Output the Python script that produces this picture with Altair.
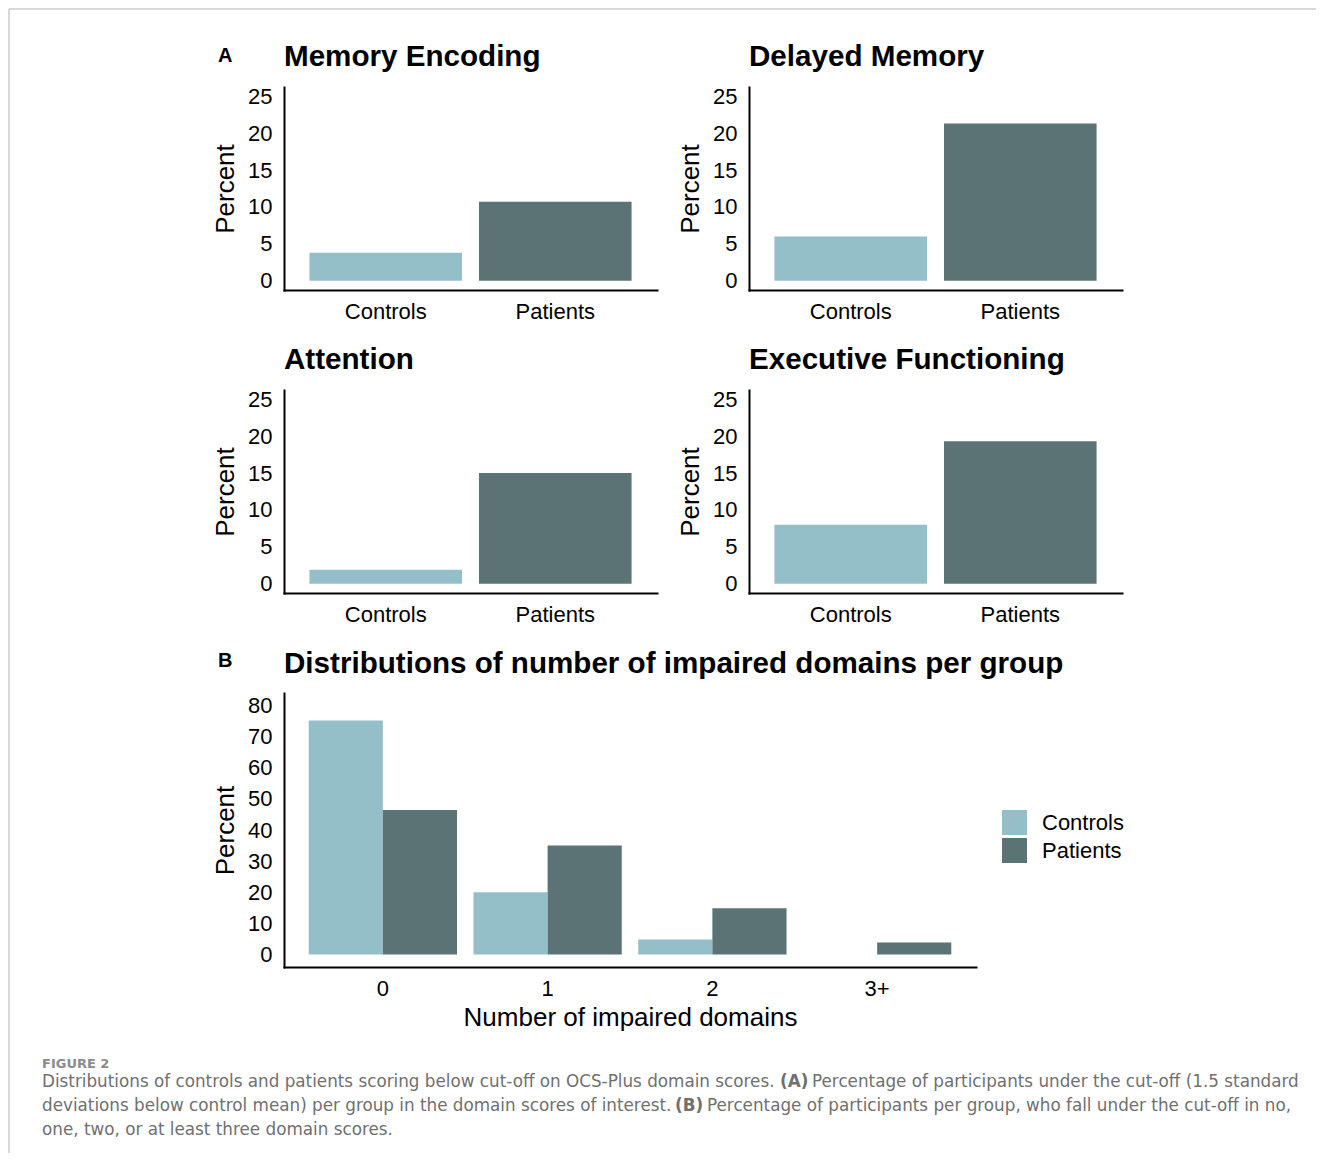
import altair as alt
import pandas as pd

# ---------------- data ----------------
groups = ["Controls", "Patients"]
domains = ["Memory Encoding", "Delayed Memory", "Attention", "Executive Functioning"]
domain_controls = [3.8, 6.0, 1.9, 8.0]
domain_patients = [10.7, 21.3, 15.0, 19.3]
y_ticks_a = [0, 5, 10, 15, 20, 25]

levels = ["0", "1", "2", "3+"]
dist_controls = [75.2, 20.0, 4.8, 0.0]
dist_patients = [46.4, 35.0, 14.9, 3.9]
y_ticks_b = [0, 10, 20, 30, 40, 50, 60, 70, 80]

caption_head = "FIGURE 2"
caption_l1a = "Distributions of controls and patients scoring below cut-off on OCS-Plus domain scores."
caption_l1b = "(A)"
caption_l1c = "Percentage of participants under the cut-off (1.5 standard"
caption_l2a = "deviations below control mean) per group in the domain scores of interest."
caption_l2b = "(B)"
caption_l2c = "Percentage of participants per group, who fall under the cut-off in no,"
caption_l3 = "one, two, or at least three domain scores."

# ---------------- style ----------------
FONT = "Liberation Sans"
CAP_FONT = "DejaVu Sans"
CAP_SIZE = 16.8
COLORS = ["#95BFC8", "#5C7376"]
FRAME = "#b4b4b4"
CAP_COLOR = "#707070"
color_scale = alt.Scale(domain=groups, range=COLORS)

PANEL_W, PANEL_H = 373, 203
B_W, B_H = 692, 274
ROW_STEP = 303          # plot-top to plot-top distance between rows


def overlay_text(text, x, y, size, weight="normal", color="black", font=FONT):
    return alt.Chart(pd.DataFrame({"label": [text]})).mark_text(
        align="left", baseline="alphabetic", fontSize=size, fontWeight=weight,
        color=color, font=font
    ).encode(x=alt.value(x), y=alt.value(y), text="label:N")


def domain_panel(i):
    df = pd.DataFrame({"group": groups, "pct": [domain_controls[i], domain_patients[i]]})
    return alt.Chart(df).mark_bar().encode(
        x=alt.X("group:N", sort=groups,
                scale=alt.Scale(paddingInner=0.1, paddingOuter=0.15),
                axis=alt.Axis(title=None, labelAngle=0)),
        y=alt.Y("pct:Q", scale=alt.Scale(domain=[-1.25, 26.25], nice=False, zero=False),
                axis=alt.Axis(title="Percent", values=y_ticks_a)),
        y2=alt.datum(0),
        color=alt.Color("group:N", scale=color_scale, legend=None),
    ).properties(width=PANEL_W, height=PANEL_H, title=domains[i])


row1 = alt.hconcat(domain_panel(0), domain_panel(1), spacing=92, bounds="flush")
row2 = alt.hconcat(domain_panel(2), domain_panel(3), spacing=92, bounds="flush")

# panel B
df_b = pd.DataFrame({
    "level": levels * 2,
    "group": ["Controls"] * len(levels) + ["Patients"] * len(levels),
    "pct": dist_controls + dist_patients,
})
panel_b = alt.Chart(df_b).mark_bar().encode(
    x=alt.X("level:N", sort=levels,
            scale=alt.Scale(paddingInner=0.1, paddingOuter=0.15),
            axis=alt.Axis(title="Number of impaired domains", labelAngle=0)),
    xOffset=alt.XOffset("group:N", sort=groups,
                        scale=alt.Scale(paddingInner=0, paddingOuter=0)),
    y=alt.Y("pct:Q", scale=alt.Scale(domain=[-4, 84], nice=False, zero=False),
            axis=alt.Axis(title="Percent", values=y_ticks_b)),
    y2=alt.datum(0),
    color=alt.Color("group:N", scale=color_scale,
                    legend=alt.Legend(title=None, orient="none", legendX=718, legendY=117,
                                      symbolType="square", symbolSize=625,
                                      symbolStrokeWidth=0, labelFontSize=22,
                                      labelFont=FONT, labelColor="black",
                                      labelOffset=15, rowPadding=3)),
).properties(width=B_W, height=B_H,
             title="Distributions of number of impaired domains per group")

# decoration layer (frame, panel letters, caption); origin sits at the
# top-right corner of panel B's plot area.  Offsets below are in panel-B coords.
OX = -B_W
ROW1_Y = -2 * ROW_STEP
k = pd.DataFrame({"k": [0]})
frame_top = alt.Chart(k).mark_rule(color=FRAME, strokeWidth=1).encode(
    x=alt.value(-275 + OX), x2=alt.value(1032 + OX), y=alt.value(ROW1_Y - 78))
frame_left = alt.Chart(k).mark_rule(color=FRAME, strokeWidth=1).encode(
    x=alt.value(-275 + OX), y=alt.value(ROW1_Y - 78), y2=alt.value(460))
deco_layers = [
    frame_top, frame_left,
    overlay_text("A", -66 + OX, ROW1_Y - 25, 20, weight="bold"),
    overlay_text("B", -66 + OX, -26, 20, weight="bold"),
    overlay_text(caption_head, -242 + OX, 375, 13, weight="bold", color="#8c8c8c", font=CAP_FONT),
    overlay_text(caption_l1a, -242 + OX, 394, CAP_SIZE, color=CAP_COLOR, font=CAP_FONT),
    overlay_text(caption_l1b, 496 + OX, 394, CAP_SIZE, weight="bold", color=CAP_COLOR, font=CAP_FONT),
    overlay_text(caption_l1c, 528 + OX, 394, CAP_SIZE, color=CAP_COLOR, font=CAP_FONT),
    overlay_text(caption_l2a, -242 + OX, 418, CAP_SIZE, color=CAP_COLOR, font=CAP_FONT),
    overlay_text(caption_l2b, 391 + OX, 418, CAP_SIZE, weight="bold", color=CAP_COLOR, font=CAP_FONT),
    overlay_text(caption_l2c, 423 + OX, 418, CAP_SIZE, color=CAP_COLOR, font=CAP_FONT),
    overlay_text(caption_l3, -242 + OX, 442, CAP_SIZE, color=CAP_COLOR, font=CAP_FONT),
]
deco = alt.layer(*deco_layers).properties(width=1, height=1)

row3 = alt.hconcat(panel_b, deco, spacing=0, bounds="flush").resolve_scale(color="independent")

chart = alt.vconcat(row1, row2, row3, spacing=ROW_STEP, bounds="flush").resolve_scale(
    color="independent"
).properties(
    padding=0, background="white"
).configure_view(
    stroke="transparent"
).configure_axis(
    domainColor="black", domainWidth=2, domainCap="square",
    ticks=False, tickSize=0, grid=False,
    labelFont=FONT, labelFontSize=22, labelColor="black",
    titleFont=FONT, titleFontSize=26, titleFontWeight="normal", titleColor="black",
).configure_axisX(
    labelPadding=11, titlePadding=5
).configure_axisY(
    labelPadding=12, titlePadding=9
).configure_title(
    font=FONT, fontSize=29.6, fontWeight="bold", color="black",
    anchor="start", frame="group", offset=13
)

chart.save("out.html", embed_options={"renderer": "svg", "actions": False})
